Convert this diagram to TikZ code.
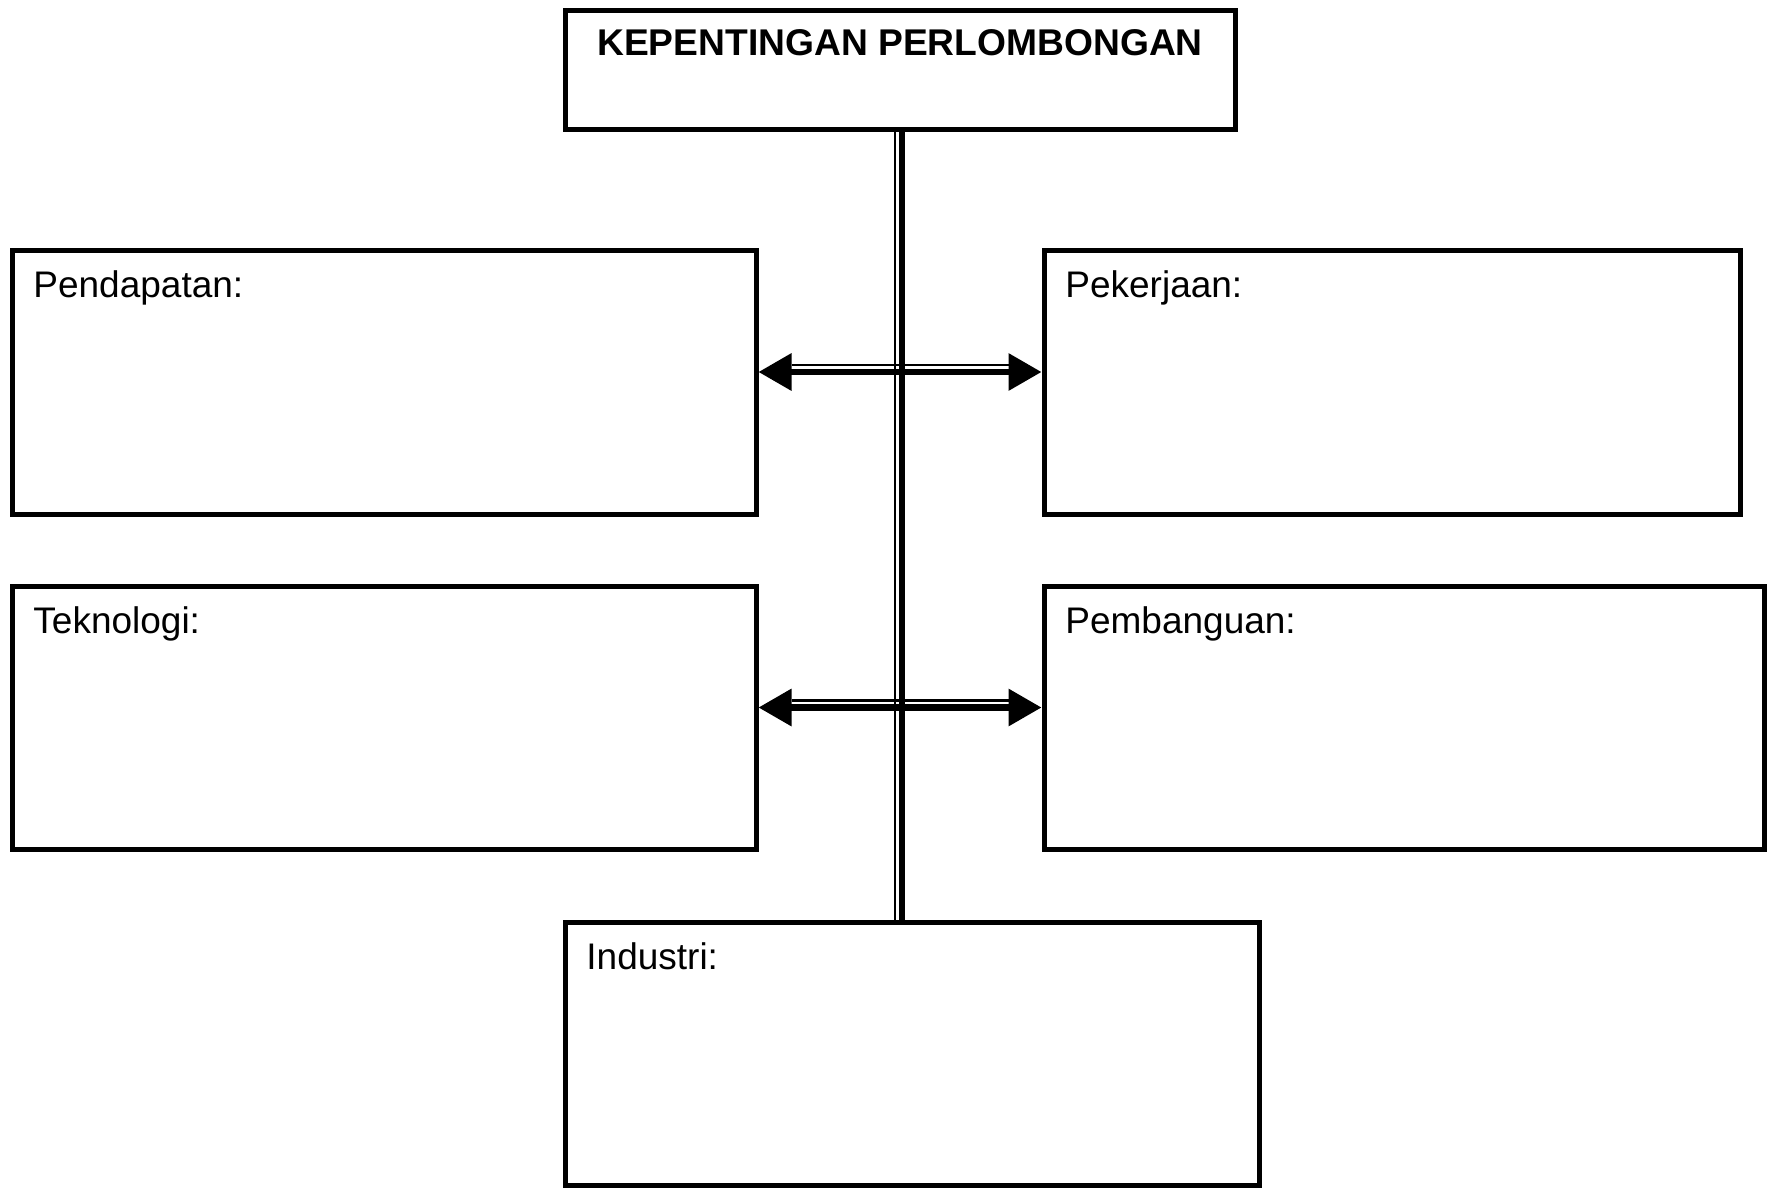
\documentclass[tikz,border=0pt]{standalone}
\usepackage{fontspec}
\setmainfont{Liberation Sans}
\usetikzlibrary{arrows.meta}
\begin{document}
\begin{tikzpicture}[x = 0.5pt, y = -0.5pt,
        box/.style = {draw, line width = 2.5pt, inner sep = 0pt},
        lbl/.style = {anchor = base west, inner sep = 0pt, font = \fontsize{18.5}{22}\selectfont},
        thinline/.style = {line width = 1.2pt},
        thickline/.style = {line width = 3.2pt},
        tips/.style = {{Triangle[length = 16.5pt, width = 18pt]}-{Triangle[length = 16.5pt, width = 18pt]}}]
    \useasboundingbox (0, 0) rectangle (1775, 1188);
    % boxes
    \node [box, minimum width = 335pt, minimum height = 59.5pt] (title) at (900, 70) {};
    \node [box, minimum width = 372pt, minimum height = 132pt] (pend) at (384, 382) {};
    \node [box, minimum width = 348.25pt, minimum height = 132pt] (peker) at (1392.25, 382) {};
    \node [box, minimum width = 372pt, minimum height = 131.5pt] (tekno) at (384, 717.5) {};
    \node [box, minimum width = 360.25pt, minimum height = 131.5pt] (pemb) at (1404.25, 717.5) {};
    \node [box, minimum width = 347.25pt, minimum height = 131.75pt] (indus) at (912.25, 1053.75) {};
    % texts
    \node [lbl, anchor = base, font = \fontsize{18.6}{22}\selectfont\bfseries] (ttitle) at ([yshift = -24pt] title.north) {KEPENTINGAN PERLOMBONGAN};
    \node [lbl] (tpend) at ([xshift = 11.75pt, yshift = -24.75pt] pend.north west) {Pendapatan:};
    \node [lbl] (tpeker) at ([xshift = 11.75pt, yshift = -24.75pt] peker.north west) {Pekerjaan:};
    \node [lbl] (ttekno) at ([xshift = 11.75pt, yshift = -24.75pt] tekno.north west) {Teknologi:};
    \node [lbl] (tpemb) at ([xshift = 11.75pt, yshift = -24.75pt] pemb.north west) {Pembanguan:};
    \node [lbl] (tindus) at ([xshift = 11.75pt, yshift = -24.75pt] indus.north west) {Industri:};
    % spine
    \coordinate (vtop) at (title.south);
    \coordinate (vbot) at (title.south |- indus.north);
    \draw [thinline] ([xshift = -2.5pt] vtop) -- ([xshift = -2.5pt] vbot);
    \draw [thickline] ([xshift = 1pt] vtop) -- ([xshift = 1pt] vbot);
    % arrows
    \draw [thickline, tips] ([yshift = 5pt] pend.east) -- ([yshift = 5pt] peker.west);
    \draw [thinline] ([xshift = 16.5pt, yshift = 8.5pt] pend.east) -- ([xshift = -16.5pt, yshift = 8.5pt] peker.west);
    \draw [thickline, tips] ([yshift = 5pt] tekno.east) -- ([yshift = 5pt] pemb.west);
    \draw [thinline] ([xshift = 16.5pt, yshift = 8.5pt] tekno.east) -- ([xshift = -16.5pt, yshift = 8.5pt] pemb.west);
\end{tikzpicture}
\end{document}
